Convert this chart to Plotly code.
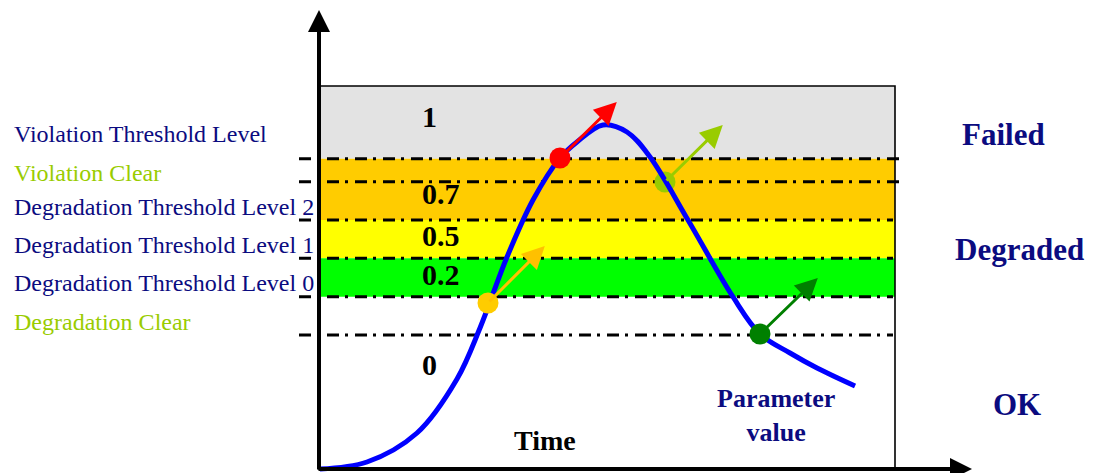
import plotly.graph_objects as go

# ------------------------------------------------------------------ data
# Parameter value over time (time: 0-100 across the box, value: 0-100)
time = [0.17, 8.33, 17.01, 23.96, 27.95, 32.64, 37.15, 41.84, 44.79, 49.31,
        53.47, 57.47, 64.06, 71.88, 76.56, 81.77, 86.46, 93.06]
value = [0.0, 1.83, 9.40, 23.50, 36.81, 55.35, 70.23, 81.20, 85.38, 89.82,
         87.99, 81.46, 65.01, 44.91, 35.25, 30.29, 26.37, 21.67]

threshold_names = ["Violation Threshold Level", "Violation Clear",
                   "Degradation Threshold Level 2", "Degradation Threshold Level 1",
                   "Degradation Threshold Level 0", "Degradation Clear"]
threshold_values = [81, 75, 65, 55, 45, 35]
threshold_kind = ["threshold", "clear", "threshold", "threshold", "threshold", "clear"]

band_low = [81, 65, 55, 45]
band_high = [100, 81, 65, 55]
band_labels = ["1", "0.7", "0.5", "0.2", "0"]

state_labels = ["Failed", "Degraded", "OK"]

event_time = [29.34, 41.84, 60.07, 76.56]
event_value = [43.34, 81.20, 74.93, 35.25]
event_dir_time = [39.2, 51.7, 70.1, 86.6]
event_dir_value = [58.2, 95.8, 89.8, 49.9]

# ------------------------------------------------------------------ styles
NAVY = "#0B0B80"
YGREEN = "#99CC00"
band_fill = ["#E3E3E3", "#FFCC00", "#FFFF00", "#00FF00"]
dot_colors = ["#FFCC00", "#FF0000", "#99CC00", "#008000"]
dot_below_curve = [False, False, True, False]
arrow_colors = ["#FFC000", "#FF0000", "#99CC00", "#007F00"]
FONT = "Liberation Serif, Times New Roman, serif"

W, H = 1104, 473
OX, OY = 319, 469          # pixel position of origin
SX, SY = 5.76, 3.83        # pixels per data unit


def dx(px):
    return (px - OX) / SX


def dy(py):
    return (OY - py) / SY


fig = go.Figure()

# bands
for lo, hi, col in zip(band_low, band_high, band_fill):
    fig.add_shape(type="rect", x0=0, x1=100, y0=lo, y1=hi, fillcolor=col,
                  line_width=0, layer="below")
# box
fig.add_shape(type="rect", x0=0, x1=100, y0=0, y1=100, line=dict(color="black", width=1.6),
              fillcolor="rgba(0,0,0,0)", layer="below")

# dash-dot threshold lines
for i, lev in enumerate(threshold_values):
    x_end = dx(901) if i < 2 else dx(893)
    fig.add_trace(go.Scatter(x=[dx(299), x_end], y=[lev, lev], mode="lines",
                             line=dict(color="black", width=3, dash="12px,6px,3px,7px"),
                             hoverinfo="skip", showlegend=False))


def dots(flag):
    idx = [i for i, b in enumerate(dot_below_curve) if b == flag]
    return go.Scatter(x=[event_time[i] for i in idx], y=[event_value[i] for i in idx],
                      mode="markers",
                      marker=dict(size=21, color=[dot_colors[i] for i in idx], line_width=0),
                      hoverinfo="skip", showlegend=False)


fig.add_trace(dots(True))
# curve
fig.add_trace(go.Scatter(x=time, y=value, mode="lines",
                         line=dict(color="#0000FF", width=5, shape="spline", smoothing=1.0),
                         hoverinfo="skip", showlegend=False))
fig.add_trace(dots(False))

annotations = []
# event arrows
for t0, v0, t1, v1, c in zip(event_time, event_value, event_dir_time, event_dir_value, arrow_colors):
    annotations.append(dict(x=t1, y=v1, ax=t0, ay=v0, xref="x", yref="y", axref="x", ayref="y",
                            text="", showarrow=True, arrowhead=2, arrowsize=1.5,
                            arrowwidth=3, arrowcolor=c))
# axes arrows
annotations.append(dict(x=0, y=dy(10), ax=0, ay=dy(471), xref="x", yref="y", axref="x", ayref="y",
                        text="", showarrow=True, arrowhead=2, arrowsize=1.1, arrowwidth=4,
                        arrowcolor="black"))
annotations.append(dict(x=dx(972), y=0, ax=dx(317), ay=0, xref="x", yref="y", axref="x", ayref="y",
                        text="", showarrow=True, arrowhead=2, arrowsize=1.1, arrowwidth=4,
                        arrowcolor="black"))

# threshold names on the left
label_py = [134, 173, 207, 245, 283, 322]
for name, kind, py in zip(threshold_names, threshold_kind, label_py):
    annotations.append(dict(x=dx(12), y=dy(py), text=name, showarrow=False, xanchor="left",
                            yanchor="middle",
                            font=dict(family=FONT, size=24, color=NAVY if kind == "threshold" else YGREEN)))

# band values
band_py = [116, 193, 235, 274, 364]
for lab, py in zip(band_labels, band_py):
    annotations.append(dict(x=dx(420), y=dy(py), text="<b>%s</b>" % lab, showarrow=False,
                            xanchor="left", yanchor="middle",
                            font=dict(family=FONT, size=30, color="black")))

# states on the right
state_pos = [(1003, 134), (1019, 249), (1017, 404)]
for lab, (px, py) in zip(state_labels, state_pos):
    annotations.append(dict(x=dx(px), y=dy(py), text="<b>%s</b>" % lab, showarrow=False,
                            xanchor="center", yanchor="middle",
                            font=dict(family=FONT, size=31, color=NAVY)))

annotations.append(dict(x=dx(545), y=dy(440), text="<b>Time</b>", showarrow=False,
                        xanchor="center", yanchor="middle",
                        font=dict(family=FONT, size=28, color="black")))
annotations.append(dict(x=dx(776), y=dy(415), text="<b>Parameter<br>value</b>", showarrow=False,
                        xanchor="center", yanchor="middle",
                        font=dict(family=FONT, size=26, color=NAVY)))

fig.update_layout(
    width=W, height=H, margin=dict(l=0, r=0, t=0, b=0),
    paper_bgcolor="white", plot_bgcolor="white",
    xaxis=dict(range=[dx(0), dx(W)], visible=False, fixedrange=True),
    yaxis=dict(range=[dy(H), dy(0)], visible=False, fixedrange=True),
    annotations=annotations, showlegend=False,
)

fig.write_html("out.html", config={"displayModeBar": False},
               post_script="document.body.style.margin='0';document.body.style.overflow='hidden';")
